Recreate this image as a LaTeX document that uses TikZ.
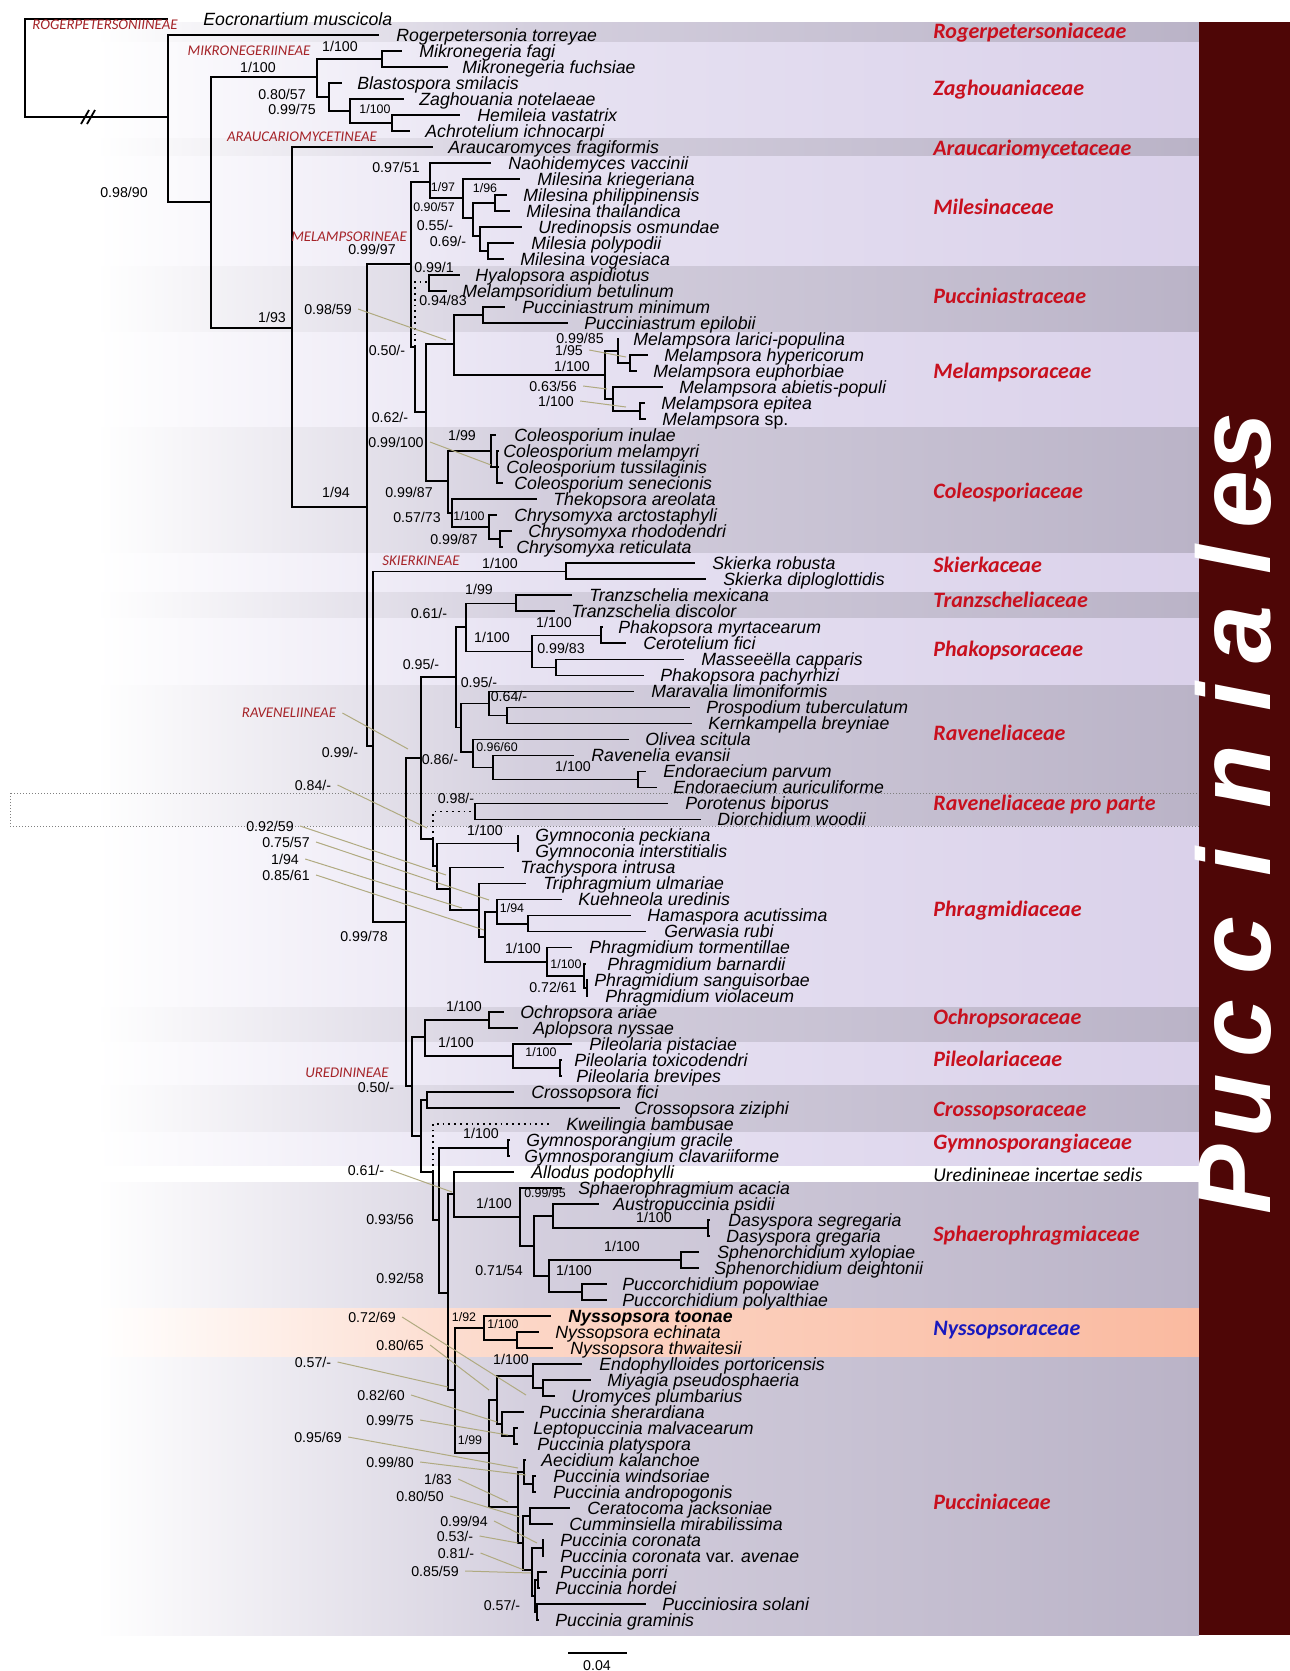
\documentclass[tikz,border=0pt]{standalone}
\usepackage{fontspec}
\setmainfont{Liberation Sans}
\newfontfamily\calfont{Carlito}
\usetikzlibrary{calc}
\definecolor{gMid}{RGB}{212,207,222}
\definecolor{gEnd}{RGB}{186,179,199}
\definecolor{lMid}{RGB}{231,226,242}
\definecolor{lEnd}{RGB}{218,209,234}
\definecolor{sMid}{RGB}{252,214,198}
\definecolor{sEnd}{RGB}{250,186,160}
\definecolor{famred}{RGB}{200,16,30}
\definecolor{famblue}{RGB}{25,25,190}
\definecolor{subred}{RGB}{165,35,40}
\definecolor{maroonbar}{RGB}{78,6,6}
\definecolor{leadc}{RGB}{176,170,128}
\pgfdeclarehorizontalshading{gband}{100bp}{color(0bp)=(white); color(29bp)=(white); color(47bp)=(gMid); color(75bp)=(gEnd); color(100bp)=(gEnd)}
\pgfdeclarehorizontalshading{lband}{100bp}{color(0bp)=(white); color(29bp)=(white); color(47bp)=(lMid); color(75bp)=(lEnd); color(100bp)=(lEnd)}
\pgfdeclarehorizontalshading{sband}{100bp}{color(0bp)=(white); color(29bp)=(white); color(47bp)=(sMid); color(75bp)=(sEnd); color(100bp)=(sEnd)}
\newcommand\leafx[4]{\coordinate (E#1) at (#2,{19+16.01*#1});\node[leaf] (L#1) at (#3,{19+16.01*#1}) {#4};}
\newcommand\kids[2]{\foreach \kid in {#2}{\draw[br] (#1) |- (\kid);}}
\newcommand\dkids[2]{\foreach \kid in {#2}{\draw[dbr] (#1) |- (\kid);}}
\newcommand\bsl[5][bs]{\node[#1] (#2) at (#3,#4) {#5};}
\newcommand\fband[3]{\shade[shading=#3] (0,#1) rectangle (1199,#2);}
\newcommand\ldr[2]{\coordinate (T#1) at #2;\draw[lead] ([xshift=3pt]#1.east) -- (T#1);}
\begin{document}
\begin{tikzpicture}[x=0.5pt,y=-0.5pt,
  br/.style={line width=0.9pt,black},
  dbr/.style={line width=0.9pt,black,dotted},
  leaf/.style={anchor=west,inner sep=0pt,font=\fontsize{8.85}{9}\selectfont\itshape,text height=7.2pt,text depth=0.8pt},
  bs/.style={inner sep=0pt,font=\fontsize{7.1}{8}\selectfont},
  bss/.style={inner sep=0pt,font=\fontsize{6.2}{7}\selectfont},
  fam/.style={anchor=west,inner sep=0pt,text=famred,font=\calfont\fontsize{11}{12}\selectfont\bfseries\itshape,text height=7.5pt,text depth=2pt},
  sub/.style={inner sep=0pt,text=subred,font=\calfont\fontsize{7.4}{8}\selectfont\itshape},
  lead/.style={leadc,line width=0.5pt}]
\useasboundingbox (0,0) rectangle (1290,1671);
% ---------- family bands ----------
\fband{22}{42}{gband}
\fband{42}{138}{lband}
\fband{138}{156}{gband}
\fband{156}{266}{lband}
\fband{266}{332}{gband}
\fband{332}{427}{lband}
\fband{427}{553}{gband}
\fband{553}{592}{lband}
\fband{592}{618}{gband}
\fband{618}{685}{lband}
\fband{685}{793}{gband}
\fband{793}{826}{gband}
\fband{826}{1007}{lband}
\fband{1007}{1042}{gband}
\fband{1042}{1085}{lband}
\fband{1085}{1132}{gband}
\fband{1132}{1165}{lband}
\fband{1182}{1308}{gband}
\fband{1308}{1357}{sband}
\fband{1357}{1635}{gband}
\draw[gray,densely dotted,line width=0.5pt] (10,793) rectangle (1199,826);
\fill[maroonbar] (1199,22) rectangle (1290,1635);
\foreach \lt/\yy in {P/1180,u/1106,c/1029,c/946,i/862,n/777,i/697,a/635,l/560,e/500,s/442}
  {\node[rotate=90,anchor=base,inner sep=0pt,text depth=0pt,text=white,font=\fontsize{52}{56}\selectfont\bfseries\itshape] at (1270,\yy) {\lt};}
% ---------- leaves ----------
\coordinate (E0) at (168,19);
\node[leaf] (L0) at (203,19) {Eocronartium muscicola};
\leafx{1}{379}{396}{Rogerpetersonia torreyae}
\leafx{2}{402}{419}{Mikronegeria fagi}
\leafx{3}{448}{462}{Mikronegeria fuchsiae}
\leafx{4}{342}{357}{Blastospora smilacis}
\leafx{5}{404}{419}{Zaghouania notelaeae}
\leafx{6}{460}{477}{Hemileia vastatrix}
\leafx{7}{410}{425}{Achrotelium ichnocarpi}
\leafx{8}{433}{448}{Araucaromyces fragiformis}
\leafx{9}{491}{508}{Naohidemyces vaccinii}
\leafx{10}{520}{537}{Milesina kriegeriana}
\leafx{11}{507}{523}{Milesina philippinensis}
\leafx{12}{510}{526}{Milesina thailandica}
\leafx{13}{522}{538}{Uredinopsis osmundae}
\leafx{14}{514}{531}{Milesia polypodii}
\leafx{15}{504}{520}{Milesina vogesiaca}
\leafx{16}{460}{475}{Hyalopsora aspidiotus}
\leafx{17}{447}{462}{Melampsoridium betulinum}
\leafx{18}{505}{522}{Pucciniastrum minimum}
\leafx{19}{568}{584}{Pucciniastrum epilobii}
\leafx{20}{619}{633}{Melampsora larici-populina}
\leafx{21}{648}{664}{Melampsora hypericorum}
\leafx{22}{637}{653}{Melampsora euphorbiae}
\leafx{23}{663}{679}{Melampsora abietis-populi}
\leafx{24}{645}{661}{Melampsora epitea}
\leafx{25}{646}{662}{Melampsora {\upshape sp.}}
\leafx{26}{496}{514}{Coleosporium inulae}
\leafx{27}{499}{503}{Coleosporium melampyri}
\leafx{28}{499}{506}{Coleosporium tussilaginis}
\leafx{29}{503}{514}{Coleosporium senecionis}
\leafx{30}{537}{553}{Thekopsora areolata}
\leafx{31}{497}{514}{Chrysomyxa arctostaphyli}
\leafx{32}{512}{528}{Chrysomyxa rhododendri}
\leafx{33}{503}{516}{Chrysomyxa reticulata}
\leafx{34}{695}{712}{Skierka robusta}
\leafx{35}{706}{723}{Skierka diploglottidis}
\leafx{36}{572}{589}{Tranzschelia mexicana}
\leafx{37}{555}{571}{Tranzschelia discolor}
\leafx{38}{603}{618}{Phakopsora myrtacearum}
\leafx{39}{626}{643}{Cerotelium fici}
\leafx{40}{684}{701}{Masseeëlla capparis}
\leafx{41}{644}{660}{Phakopsora pachyrhizi}
\leafx{42}{634}{651}{Maravalia limoniformis}
\leafx{43}{690}{706}{Prospodium tuberculatum}
\leafx{44}{692}{708}{Kernkampella breyniae}
\leafx{45}{629}{645}{Olivea scitula}
\leafx{46}{574}{591}{Ravenelia evansii}
\leafx{47}{646}{663}{Endoraecium parvum}
\leafx{48}{657}{673}{Endoraecium auriculiforme}
\leafx{49}{668}{685}{Porotenus biporus}
\leafx{50}{701}{717}{Diorchidium woodii}
\leafx{51}{519}{535}{Gymnoconia peckiana}
\leafx{52}{519}{535}{Gymnoconia interstitialis}
\leafx{53}{504}{520}{Trachyspora intrusa}
\leafx{54}{526}{543}{Triphragmium ulmariae}
\leafx{55}{562}{578}{Kuehneola uredinis}
\leafx{56}{631}{647}{Hamaspora acutissima}
\leafx{57}{646}{664}{Gerwasia rubi}
\leafx{58}{572}{589}{Phragmidium tormentillae}
\leafx{59}{586}{607}{Phragmidium barnardii}
\leafx{60}{588}{594}{Phragmidium sanguisorbae}
\leafx{61}{588}{605}{Phragmidium violaceum}
\leafx{62}{504}{520}{Ochropsora ariae}
\leafx{63}{518}{533}{Aplopsora nyssae}
\leafx{64}{572}{589}{Pileolaria pistaciae}
\leafx{65}{562}{574}{Pileolaria toxicodendri}
\leafx{66}{562}{576}{Pileolaria brevipes}
\leafx{67}{514}{531}{Crossopsora fici}
\leafx{68}{620}{634}{Crossopsora ziziphi}
\leafx{69}{551}{566}{Kweilingia bambusae}
\leafx{70}{510}{526}{Gymnosporangium gracile}
\leafx{71}{510}{524}{Gymnosporangium clavariiforme}
\leafx{72}{514}{531}{Allodus podophylli}
\leafx{73}{562}{578}{Sphaerophragmium acacia}
\leafx{74}{599}{613}{Austropuccinia psidii}
\leafx{75}{710}{728}{Dasyspora segregaria}
\leafx{76}{710}{726}{Dasyspora gregaria}
\leafx{77}{699}{717}{Sphenorchidium xylopiae}
\leafx{78}{699}{714}{Sphenorchidium deightonii}
\leafx{79}{607}{622}{Puccorchidium popowiae}
\leafx{80}{607}{622}{Puccorchidium polyalthiae}
\leafx{81}{551}{568}{\bfseries Nyssopsora toonae}
\leafx{82}{539}{555}{Nyssopsora echinata}
\leafx{83}{553}{570}{Nyssopsora thwaitesii}
\leafx{84}{582}{599}{Endophylloides portoricensis}
\leafx{85}{591}{607}{Miyagia pseudosphaeria}
\leafx{86}{555}{571}{Uromyces plumbarius}
\leafx{87}{524}{539}{Puccinia sherardiana}
\leafx{88}{518}{533}{Leptopuccinia malvacearum}
\leafx{89}{518}{537}{Puccinia platyspora}
\leafx{90}{526}{541}{Aecidium kalanchoe}
\leafx{91}{536}{553}{Puccinia windsoriae}
\leafx{92}{536}{553}{Puccinia andropogonis}
\leafx{93}{570}{587}{Ceratocoma jacksoniae}
\leafx{94}{553}{569}{Cumminsiella mirabilissima}
\leafx{95}{544}{560}{Puccinia coronata}
\leafx{96}{544}{560}{Puccinia coronata {\upshape var.} avenae}
\leafx{97}{547}{560}{Puccinia porri}
\leafx{98}{540}{555}{Puccinia hordei}
\leafx{99}{646}{662}{Pucciniosira solani}
\leafx{100}{539}{555}{Puccinia graminis}
% ---------- internal nodes ----------
\coordinate (n0) at (25,68);
\coordinate (n1) at (168,117);
\coordinate (n2) at (211,202);
\coordinate (nA) at (317,77);
\coordinate (nMik) at (382,59);
\coordinate (nB) at (329,97);
\coordinate (nC) at (350,111);
\coordinate (nD) at (392,123.1);
\coordinate (n3) at (292,328);
\coordinate (nM) at (367,507);
\coordinate (nMel) at (411,264);
\coordinate (nY2) at (415,347);
\coordinate (nMi0) at (430,182);
\coordinate (nMi1) at (463,198);
\coordinate (nMi2) at (473,218);
\coordinate (nPT) at (495,203.1);
\coordinate (nMi3) at (480,236);
\coordinate (nMp) at (488,251.2);
\coordinate (nHM) at (429,282);
\coordinate (nP0) at (426,412);
\coordinate (nP1) at (454,344);
\coordinate (nPst) at (483,315.2);
\coordinate (nMl0) at (605,375);
\coordinate (nMl1) at (618,351);
\coordinate (nMl2) at (630,363.2);
\coordinate (nMl3) at (613,399);
\coordinate (nMl4) at (640,411.3);
\coordinate (nC0) at (448,481);
\coordinate (nCo1) at (491,451);
\coordinate (nCo2) at (497,467.3);
\coordinate (nC1) at (452,513);
\coordinate (nCh) at (489,527.3);
\coordinate (nCh2) at (500,539.3);
\coordinate (nN) at (373,746);
\coordinate (nSk) at (566,571.4);
\coordinate (nP) at (406,922);
\coordinate (nRV) at (421,758);
\coordinate (nR1) at (456,677);
\coordinate (nTP) at (466,627);
\coordinate (nTr) at (516,603.4);
\coordinate (nPh) at (532,651.4);
\coordinate (nPh1) at (601,635.4);
\coordinate (nPh2) at (556,667.4);
\coordinate (nRa) at (461,727.5);
\coordinate (nRa1) at (489,703.4);
\coordinate (nRa2) at (507,715.4);
\coordinate (nRa3) at (473,752);
\coordinate (nRa4) at (493,767.5);
\coordinate (nE) at (638,779.5);
\coordinate (nPhG) at (433,839);
\coordinate (nPD) at (475,811.5);
\coordinate (nG1) at (437,866);
\coordinate (nGym) at (518,843.5);
\coordinate (nTr2) at (450,889);
\coordinate (nTri) at (479,910);
\coordinate (nK0) at (485,936.6);
\coordinate (nK) at (497,911.6);
\coordinate (nHG) at (528,923.6);
\coordinate (nPp0) at (547,961.6);
\coordinate (nPp1) at (584,975.6);
\coordinate (nPp2) at (587,987.6);
\coordinate (nU) at (412,1086);
\coordinate (nOP) at (425,1037);
\coordinate (nOch) at (489,1019.6);
\coordinate (nPil) at (513,1055.6);
\coordinate (nPil2) at (560,1067.7);
\coordinate (nV) at (421,1136);
\coordinate (nCr) at (427,1099.7);
\coordinate (nW) at (433,1172);
\coordinate (nX1) at (439,1220);
\coordinate (nGy) at (508,1147.7);
\coordinate (nX2) at (448,1293);
\coordinate (nY) at (454,1194.2);
\coordinate (nS0) at (520,1216.7);
\coordinate (nS1) at (534,1245.8);
\coordinate (nS2) at (553,1215.8);
\coordinate (nD2) at (708,1227.8);
\coordinate (nS3) at (549,1275.8);
\coordinate (nSph) at (681,1259.8);
\coordinate (nPu) at (582,1291.8);
\coordinate (nQ) at (455,1390);
\coordinate (nNy) at (484,1327.8);
\coordinate (nNy2) at (517,1339.8);
\coordinate (nR) at (489,1453);
\coordinate (nT) at (497,1400);
\coordinate (nE1) at (533,1375.8);
\coordinate (nMU) at (543,1387.9);
\coordinate (nS) at (502,1424);
\coordinate (nS1b) at (514,1435.9);
\coordinate (nB1) at (518,1507);
\coordinate (nA1) at (524,1472);
\coordinate (nA2) at (533,1483.9);
\coordinate (nC1b) at (523,1543);
\coordinate (nCC) at (530,1515.9);
\coordinate (nD1) at (532,1570);
\coordinate (nCor) at (543,1548);
\coordinate (nE2) at (535,1596);
\coordinate (nPH) at (538,1580);
\coordinate (nPG) at (537,1612);
% ---------- branches ----------
\kids{n0}{E0,n1}
\draw[br] (81,124) -- (89,110);
\draw[br] (87,124) -- (95,110);
\kids{n1}{E1,n2}
\kids{n2}{nA,n3}
\kids{nA}{nMik,nB}
\kids{nMik}{E2,E3}
\kids{nB}{E4,nC}
\kids{nC}{E5,nD}
\kids{nD}{E6,E7}
\kids{n3}{E8,nM}
\kids{nM}{nMel,nN}
\kids{nMel}{nMi0,nY2}
\dkids{nY2}{nHM}
\kids{nY2}{nP0}
\kids{nMi0}{E9,nMi1}
\kids{nMi1}{E10,nMi2}
\kids{nMi2}{nPT,nMi3}
\kids{nPT}{E11,E12}
\kids{nMi3}{E13,nMp}
\kids{nMp}{E14,E15}
\kids{nHM}{E16,E17}
\kids{nP0}{nP1,nC0}
\kids{nP1}{nPst,nMl0}
\kids{nPst}{E18,E19}
\kids{nMl0}{nMl1,nMl3}
\kids{nMl1}{E20,nMl2}
\kids{nMl2}{E21,E22}
\kids{nMl3}{E23,nMl4}
\kids{nMl4}{E24,E25}
\kids{nC0}{nCo1,nC1}
\kids{nCo1}{E26,nCo2}
\kids{nCo2}{E27,E28,E29}
\kids{nC1}{E30,nCh}
\kids{nCh}{E31,nCh2}
\kids{nCh2}{E32,E33}
\kids{nN}{nSk,nP}
\kids{nSk}{E34,E35}
\kids{nP}{nRV,nU}
\kids{nRV}{nR1,nPhG}
\kids{nR1}{nTP,nRa}
\kids{nTP}{nTr,nPh}
\kids{nTr}{E36,E37}
\kids{nPh}{nPh1,nPh2}
\kids{nPh1}{E38,E39}
\kids{nPh2}{E40,E41}
\kids{nRa}{nRa1,nRa3}
\kids{nRa1}{E42,nRa2}
\kids{nRa2}{E43,E44}
\kids{nRa3}{E45,nRa4}
\kids{nRa4}{E46,nE}
\kids{nE}{E47,E48}
\dkids{nPhG}{nPD}
\kids{nPhG}{nG1}
\kids{nPD}{E49,E50}
\kids{nG1}{nGym,nTr2}
\kids{nGym}{E51,E52}
\kids{nTr2}{E53,nTri}
\kids{nTri}{E54,nK0}
\kids{nK0}{nK,nPp0}
\kids{nK}{E55,nHG}
\kids{nHG}{E56,E57}
\kids{nPp0}{E58,nPp1}
\kids{nPp1}{E59,nPp2}
\kids{nPp2}{E60,E61}
\kids{nU}{nOP,nV}
\kids{nOP}{nOch,nPil}
\kids{nOch}{E62,E63}
\kids{nPil}{E64,nPil2}
\kids{nPil2}{E65,E66}
\kids{nV}{nCr,nW}
\kids{nCr}{E67,E68}
\dkids{nW}{E69}
\kids{nW}{nX1}
\kids{nX1}{nGy,nX2}
\kids{nGy}{E70,E71}
\kids{nX2}{nY,nQ}
\kids{nY}{E72,nS0}
\kids{nS0}{E73,nS1}
\kids{nS1}{nS2,nS3}
\kids{nS2}{E74,nD2}
\kids{nD2}{E75,E76}
\kids{nS3}{nSph,nPu}
\kids{nSph}{E77,E78}
\kids{nPu}{E79,E80}
\kids{nQ}{nNy,nR}
\kids{nNy}{E81,nNy2}
\kids{nNy2}{E82,E83}
\kids{nR}{nT,nB1}
\kids{nT}{nE1,nS}
\kids{nE1}{E84,nMU}
\kids{nMU}{E85,E86}
\kids{nS}{E87,nS1b}
\kids{nS1b}{E88,E89}
\kids{nB1}{nA1,nC1b}
\kids{nA1}{E90,nA2}
\kids{nA2}{E91,E92}
\kids{nC1b}{nCC,nD1}
\kids{nCC}{E93,E94}
\kids{nD1}{nCor,nE2}
\kids{nCor}{E95,E96}
\kids{nE2}{nPH,nPG}
\kids{nPH}{E97,E98}
\kids{nPG}{E99,E100}
% ---------- suborder labels ----------
\node[sub] (s1) at (105,25) {ROGERPETERSONIINEAE};
\node[sub] (s2) at (249,51) {MIKRONEGERIINEAE};
\node[sub] (s3) at (302,137) {ARAUCARIOMYCETINEAE};
\node[sub] (s4) at (349,237) {MELAMPSORINEAE};
\node[sub] (s5) at (421,561) {SKIERKINEAE};
\node[sub] (s6) at (289,713) {RAVENELIINEAE};
\node[sub] (s7) at (347,1073) {UREDININEAE};
% ---------- support values ----------
\bsl{b1}{124}{192}{0.98/90}
\bsl{b2}{258}{67}{1/100}
\bsl{b3}{340}{46}{1/100}
\bsl{b4}{282}{94}{0.80/57}
\bsl{b5}{292}{109}{0.99/75}
\bsl[bss]{b6}{375}{109}{1/100}
\bsl{b7}{272}{317}{1/93}
\bsl{b8}{328}{309}{0.98/59}
\bsl{b9}{336}{492}{1/94}
\bsl{b10}{396}{167}{0.97/51}
\bsl[bss]{b11}{443}{187}{1/97}
\bsl[bss]{b12}{485}{188}{1/96}
\bsl[bss]{b13}{434}{207}{0.90/57}
\bsl{b14}{435}{225}{0.55/-}
\bsl{b15}{448}{241}{0.69/-}
\bsl{b16}{372}{249}{0.99/97}
\bsl{b17}{434}{267}{0.99/1}
\bsl{b18}{443}{300}{0.94/83}
\bsl{b19}{387}{350}{0.50/-}
\bsl{b20}{390}{417}{0.62/-}
\bsl{b21}{580}{338}{0.99/85}
\bsl{b22}{569}{350}{1/95}
\bsl{b23}{572}{366}{1/100}
\bsl{b24}{553}{386}{0.63/56}
\bsl{b25}{556}{401}{1/100}
\bsl{b26}{462}{435}{1/99}
\bsl{b27}{396}{442}{0.99/100}
\bsl{b28}{409}{492}{0.99/87}
\bsl{b29}{417}{517}{0.57/73}
\bsl[bss]{b30}{469}{516}{1/100}
\bsl{b31}{454}{539}{0.99/87}
\bsl{b32}{500}{563}{1/100}
\bsl{b33}{479}{589}{1/99}
\bsl{b34}{429}{613}{0.61/-}
\bsl{b35}{554}{622}{1/100}
\bsl{b36}{492}{637}{1/100}
\bsl{b37}{561}{648}{0.99/83}
\bsl{b38}{421}{664}{0.95/-}
\bsl{b39}{479}{682}{0.95/-}
\bsl{b40}{509}{696}{0.64/-}
\bsl[bss]{b41}{497}{747}{0.96/60}
\bsl{b42}{340}{752}{0.99/-}
\bsl{b43}{440}{759}{0.86/-}
\bsl{b44}{573}{766}{1/100}
\bsl{b45}{313}{785}{0.84/-}
\bsl{b46}{456}{798}{0.98/-}
\bsl{b47}{270}{826}{0.92/59}
\bsl{b48}{485}{830}{1/100}
\bsl{b49}{286}{842}{0.75/57}
\bsl{b50}{285}{859}{1/94}
\bsl{b51}{286}{875}{0.85/61}
\bsl[bss]{b52}{512}{908}{1/94}
\bsl{b53}{364}{936}{0.99/78}
\bsl{b54}{523}{948}{1/100}
\bsl[bss]{b55}{566}{964}{1/100}
\bsl{b56}{553}{987}{0.72/61}
\bsl{b57}{464}{1006}{1/100}
\bsl{b58}{456}{1042}{1/100}
\bsl[bss]{b59}{541}{1052}{1/100}
\bsl{b60}{376}{1087}{0.50/-}
\bsl{b61}{481}{1133}{1/100}
\bsl{b62}{366}{1170}{0.61/-}
\bsl{b63}{494}{1203}{1/100}
\bsl[bss]{b64}{545}{1193}{0.99/95}
\bsl{b65}{390}{1219}{0.93/56}
\bsl{b66}{654}{1217}{1/100}
\bsl{b67}{622}{1246}{1/100}
\bsl{b68}{499}{1270}{0.71/54}
\bsl{b69}{574}{1270}{1/100}
\bsl{b70}{400}{1278}{0.92/58}
\bsl{b71}{372}{1317}{0.72/69}
\bsl[bss]{b72}{464}{1317}{1/92}
\bsl[bss]{b73}{503}{1324}{1/100}
\bsl{b74}{400}{1345}{0.80/65}
\bsl{b75}{313}{1362}{0.57/-}
\bsl{b76}{511}{1359}{1/100}
\bsl{b77}{381}{1395}{0.82/60}
\bsl{b78}{390}{1420}{0.99/75}
\bsl{b79}{318}{1437}{0.95/69}
\bsl[bss]{b80}{470}{1440}{1/99}
\bsl{b81}{390}{1462}{0.99/80}
\bsl{b82}{438}{1479}{1/83}
\bsl{b83}{420}{1496}{0.80/50}
\bsl{b84}{464}{1521}{0.99/94}
\bsl{b85}{455}{1536}{0.53/-}
\bsl{b86}{456}{1553}{0.81/-}
\bsl{b87}{435}{1571}{0.85/59}
\bsl{b88}{502}{1605}{0.57/-}
% ---------- leader lines ----------
\ldr{b8}{(446,340)}
\ldr{b22}{(626,357)}
\ldr{b24}{(607,389)}
\ldr{b25}{(626,407)}
\ldr{b27}{(491,465)}
\ldr{s6}{(408,749)}
\ldr{b45}{(427,828)}
\ldr{b47}{(446,875)}
\ldr{b49}{(489,900)}
\ldr{b50}{(462,908)}
\ldr{b51}{(484,930)}
\ldr{b62}{(452,1192)}
\ldr{b71}{(526,1395)}
\ldr{b74}{(489,1390)}
\ldr{b75}{(448,1387)}
\ldr{b77}{(497,1422)}
\ldr{b78}{(508,1435)}
\ldr{b79}{(518,1468)}
\ldr{b81}{(526,1475)}
\ldr{b82}{(508,1502)}
\ldr{b83}{(520,1517)}
\ldr{b84}{(537,1543)}
\ldr{b85}{(518,1543)}
\ldr{b86}{(524,1570)}
\ldr{b87}{(531,1573)}
% ---------- family labels ----------
\node[fam] (f1) at (933,33) {Rogerpetersoniaceae};
\node[fam] (f2) at (933,90) {Zaghouaniaceae};
\node[fam] (f3) at (933,150) {Araucariomycetaceae};
\node[fam] (f4) at (933,209) {Milesinaceae};
\node[fam] (f5) at (933,298) {Pucciniastraceae};
\node[fam] (f6) at (933,373) {Melampsoraceae};
\node[fam] (f7) at (933,493) {Coleosporiaceae};
\node[fam] (f8) at (933,567) {Skierkaceae};
\node[fam] (f9) at (933,602) {Tranzscheliaceae};
\node[fam] (f10) at (933,651) {Phakopsoraceae};
\node[fam] (f11) at (933,735) {Raveneliaceae};
\node[fam] (f12) at (933,805) {Raveneliaceae pro parte};
\node[fam] (f13) at (933,911) {Phragmidiaceae};
\node[fam] (f14) at (933,1019) {Ochropsoraceae};
\node[fam] (f15) at (933,1061) {Pileolariaceae};
\node[fam] (f16) at (933,1111) {Crossopsoraceae};
\node[fam] (f17) at (933,1144) {Gymnosporangiaceae};
\node[anchor=west,inner sep=0pt,font=\calfont\fontsize{9.8}{10}\selectfont\itshape,text height=7pt,text depth=2pt] (f18) at (933,1176) {Uredinineae incertae sedis};
\node[fam] (f19) at (933,1236) {Sphaerophragmiaceae};
\node[fam,text=famblue] (f20) at (933,1330) {Nyssopsoraceae};
\node[fam] (f21) at (933,1504) {Pucciniaceae};
% ---------- scale bar ----------
\coordinate (sb1) at (568,1653);
\coordinate (sb2) at (627,1653);
\draw[line width=0.6pt] (sb1) -- (sb2);
\node[bs] (sbl) at (597,1666) {0.04};
\end{tikzpicture}
\end{document}
